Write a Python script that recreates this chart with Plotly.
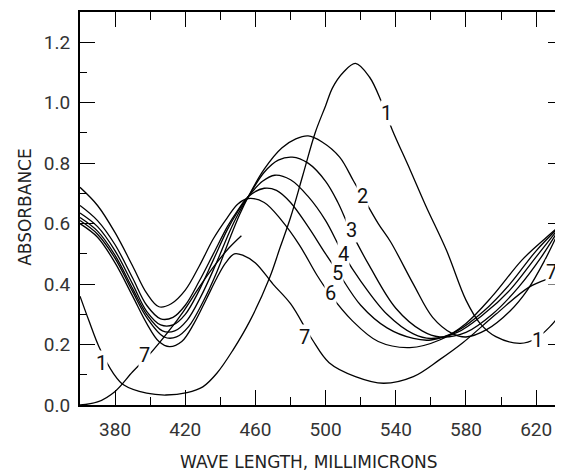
import plotly.graph_objects as go

# wavelength (millimicrons) and absorbance
wl_1 = [360, 365, 371, 379, 385, 398, 409, 421, 430, 438, 447, 457, 468, 474, 480, 487, 494, 500, 504,
        510, 517, 525, 532, 538, 548, 557, 569, 580, 588, 597, 611, 620, 628, 635]
abs_1 = [0.36, 0.28, 0.19, 0.105, 0.066, 0.039, 0.033, 0.041, 0.06, 0.105, 0.18, 0.28, 0.42, 0.52, 0.62,
         0.76, 0.9, 0.99, 1.05, 1.1, 1.13, 1.085, 1.0, 0.91, 0.78, 0.66, 0.51, 0.347, 0.27, 0.226, 0.204,
         0.22, 0.26, 0.31]

wl_2 = [360, 370, 380, 390, 398, 408, 415, 422, 430, 438, 446, 451, 456, 465, 475, 483, 490, 498, 508,
        516, 522, 530, 537, 550, 561, 572, 580, 592, 605, 615, 625, 635]
abs_2 = [0.61, 0.565, 0.485, 0.375, 0.29, 0.225, 0.225, 0.26, 0.34, 0.44, 0.56, 0.63, 0.69, 0.78, 0.85,
         0.88, 0.89, 0.87, 0.82, 0.74, 0.68, 0.6, 0.54, 0.4, 0.29, 0.237, 0.225, 0.25, 0.31, 0.38, 0.48, 0.6]

wl_3 = [360, 370, 380, 390, 398, 407, 414, 421, 429, 437, 445, 450, 456, 465, 473, 481, 490, 500, 507,
        514, 525, 540, 555, 565, 580, 595, 610, 623, 635]
abs_3 = [0.62, 0.575, 0.495, 0.385, 0.3, 0.245, 0.245, 0.28, 0.36, 0.46, 0.57, 0.63, 0.69, 0.77, 0.81,
         0.82, 0.8, 0.74, 0.67, 0.58, 0.46, 0.32, 0.245, 0.225, 0.24, 0.3, 0.39, 0.49, 0.6]

wl_4 = [360, 370, 380, 390, 398, 406, 413, 420, 428, 436, 444, 450, 456, 464, 471, 480, 490, 500, 510,
        520, 535, 550, 560, 575, 590, 605, 620, 635]
abs_4 = [0.635, 0.59, 0.51, 0.4, 0.31, 0.265, 0.265, 0.3, 0.38, 0.48, 0.58, 0.64, 0.69, 0.74, 0.76,
         0.745, 0.69, 0.61, 0.5, 0.41, 0.3, 0.235, 0.22, 0.24, 0.3, 0.38, 0.49, 0.6]

wl_5 = [360, 370, 380, 390, 398, 406, 413, 420, 428, 436, 444, 450, 456, 465, 472, 480, 490, 500, 507,
        520, 535, 550, 560, 575, 590, 605, 620, 635]
abs_5 = [0.66, 0.61, 0.53, 0.42, 0.33, 0.285, 0.29, 0.33, 0.41, 0.5, 0.59, 0.645, 0.69, 0.717, 0.71,
         0.67, 0.59, 0.5, 0.44, 0.33, 0.255, 0.22, 0.215, 0.245, 0.31, 0.4, 0.51, 0.6]

wl_6 = [360, 370, 380, 390, 398, 405, 412, 420, 428, 436, 444, 450, 456, 465, 475, 485, 495, 502, 515,
        530, 548, 565, 580, 595, 612, 625, 635]
abs_6 = [0.72, 0.66, 0.57, 0.46, 0.37, 0.325, 0.335, 0.38, 0.46, 0.55, 0.62, 0.665, 0.683, 0.67, 0.61,
         0.53, 0.43, 0.37, 0.28, 0.21, 0.19, 0.215, 0.27, 0.36, 0.48, 0.55, 0.6]

wl_7 = [360, 370, 380, 390, 398, 405, 411, 418, 425, 432, 438, 443, 448, 453, 460, 470, 480, 492, 502,
        517, 533, 550, 565, 578, 597, 616, 630, 635]
abs_7 = [0.6, 0.555, 0.47, 0.36, 0.27, 0.21, 0.193, 0.21, 0.27, 0.35, 0.42, 0.47, 0.5, 0.495, 0.47,
         0.4, 0.335, 0.22, 0.14, 0.094, 0.072, 0.094, 0.15, 0.205, 0.3, 0.39, 0.425, 0.44]

# the short curve rising from zero at the lower left, also marked 7
wl_7b = [360, 370, 380, 390, 400, 410, 419, 428, 436, 445, 452]
abs_7b = [0.0, 0.01, 0.045, 0.11, 0.17, 0.24, 0.31, 0.39, 0.456, 0.52, 0.56]

# curve labels: text, wavelength, absorbance
label_text = ["1", "7", "1", "2", "3", "4", "5", "6", "7", "1", "7"]
label_wl = [372, 397, 534.5, 521, 514.5, 510, 507, 502.5, 488, 621, 628.5]
label_abs = [0.14, 0.165, 0.965, 0.69, 0.58, 0.5, 0.436, 0.37, 0.225, 0.215, 0.44]

curves = [(wl_1, abs_1), (wl_2, abs_2), (wl_3, abs_3), (wl_4, abs_4), (wl_5, abs_5),
          (wl_6, abs_6), (wl_7, abs_7), (wl_7b, abs_7b)]

fig = go.Figure()
for wl, ab in curves:
    fig.add_trace(go.Scatter(x=wl, y=ab, mode="lines",
                             line=dict(color="black", width=1.3, shape="spline", smoothing=1.0),
                             showlegend=False, hoverinfo="skip"))

for t, xv, yv in zip(label_text, label_wl, label_abs):
    fig.add_annotation(x=xv, y=yv, text=t, showarrow=False, bgcolor="white",
                       font=dict(family="Roboto", size=20, color="#111"), borderpad=0)

# axis titles placed as annotations so they sit where the original lettering is
title_font = dict(family="DejaVu Sans", size=17, color="#222")
fig.add_annotation(xref="paper", yref="paper", x=0.474, y=-0.145, text="WAVE LENGTH, MILLIMICRONS",
                   showarrow=False, font=title_font, xanchor="center", yanchor="middle")
fig.add_annotation(xref="paper", yref="paper", x=-0.114, y=0.504, text="ABSORBANCE", textangle=-90,
                   showarrow=False, font=title_font, xanchor="center", yanchor="middle")

tick_font = dict(family="Roboto", size=19, color="#333")
fig.update_xaxes(range=[360, 635.3], tickvals=[380, 420, 460, 500, 540, 580, 620],
                 ticks="inside", ticklen=15, tickwidth=1.2, tickcolor="black",
                 minor=dict(dtick=20, tick0=360, ticks="inside", ticklen=8, tickwidth=1.2, tickcolor="black"),
                 showline=True, linecolor="black", linewidth=2, mirror="ticks",
                 showgrid=False, zeroline=False, tickfont=tick_font, ticklabelstandoff=6,
                 automargin=False)
fig.update_yaxes(range=[0, 1.3], tickvals=[0, 0.2, 0.4, 0.6, 0.8, 1.0, 1.2],
                 ticktext=["0.0", "0.2", "0.4", "0.6", "0.8", "1.0", "1.2"],
                 ticks="inside", ticklen=15, tickwidth=1.2, tickcolor="black",
                 minor=dict(dtick=0.1, tick0=0, ticks="inside", ticklen=7, tickwidth=1.2, tickcolor="black"),
                 showline=True, linecolor="black", linewidth=2, mirror="ticks",
                 showgrid=False, zeroline=False, tickfont=tick_font, ticklabelstandoff=4,
                 automargin=False)
# the page body adds an 8px margin, so the figure is sized to fill the rest of the window
fig.update_layout(width=555, height=466, margin=dict(l=72, r=0, t=4, b=69),
                  plot_bgcolor="white", paper_bgcolor="white")

fig.write_html("out.html")
